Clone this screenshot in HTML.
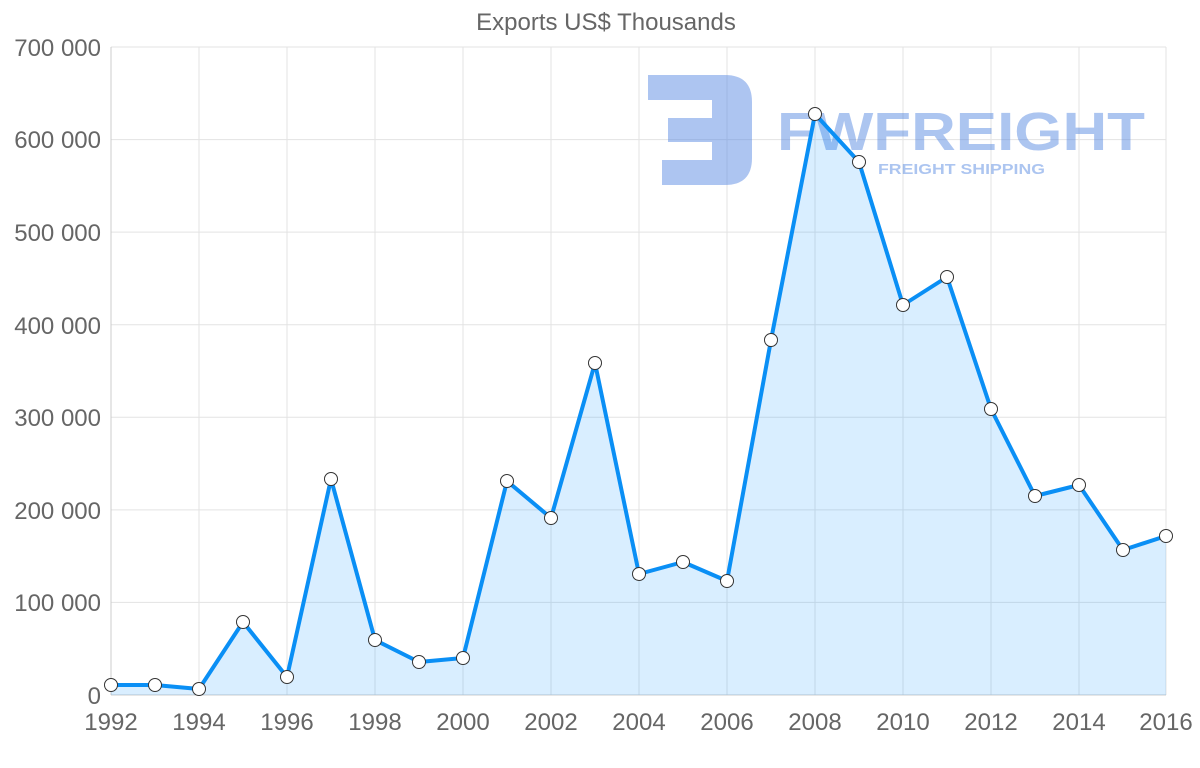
<!DOCTYPE html>
<html><head><meta charset="utf-8"><style>
body{margin:0;background:#fff;}
svg text{font-family:"Liberation Sans",sans-serif;}
</style></head><body>
<svg width="1200" height="763" xmlns="http://www.w3.org/2000/svg">
<text x="606" y="30" text-anchor="middle" font-size="24" fill="#666">Exports US$ Thousands</text>
<g stroke="#e3e3e3" stroke-width="1">
<line x1="111" y1="47" x2="1166" y2="47"/><line x1="111" y1="139.6" x2="1166" y2="139.6"/>
<line x1="111" y1="232.1" x2="1166" y2="232.1"/><line x1="111" y1="324.7" x2="1166" y2="324.7"/>
<line x1="111" y1="417.3" x2="1166" y2="417.3"/><line x1="111" y1="509.9" x2="1166" y2="509.9"/>
<line x1="111" y1="602.4" x2="1166" y2="602.4"/>
<line x1="199" y1="47" x2="199" y2="695"/><line x1="287" y1="47" x2="287" y2="695"/>
<line x1="375" y1="47" x2="375" y2="695"/><line x1="463" y1="47" x2="463" y2="695"/>
<line x1="551" y1="47" x2="551" y2="695"/><line x1="639" y1="47" x2="639" y2="695"/>
<line x1="727" y1="47" x2="727" y2="695"/><line x1="815" y1="47" x2="815" y2="695"/>
<line x1="903" y1="47" x2="903" y2="695"/><line x1="991" y1="47" x2="991" y2="695"/>
<line x1="1079" y1="47" x2="1079" y2="695"/><line x1="1166" y1="47" x2="1166" y2="695"/>
</g>
<line x1="111" y1="47" x2="111" y2="695" stroke="#ccc"/>
<line x1="111" y1="695" x2="1166" y2="695" stroke="#ccc"/>
<g font-size="24" fill="#666" text-anchor="end">
<text x="101" y="56">700 000</text><text x="101" y="148">600 000</text><text x="101" y="241">500 000</text>
<text x="101" y="334">400 000</text><text x="101" y="426">300 000</text><text x="101" y="519">200 000</text>
<text x="101" y="611">100 000</text><text x="101" y="704">0</text>
</g>
<g font-size="24" fill="#666" text-anchor="middle">
<text x="111" y="730">1992</text><text x="199" y="730">1994</text><text x="287" y="730">1996</text>
<text x="375" y="730">1998</text><text x="463" y="730">2000</text><text x="551" y="730">2002</text>
<text x="639" y="730">2004</text><text x="727" y="730">2006</text><text x="815" y="730">2008</text>
<text x="903" y="730">2010</text><text x="991" y="730">2012</text><text x="1079" y="730">2014</text>
<text x="1166" y="730">2016</text>
</g>
<g opacity="0.45" fill="#4a7fe0">
<path d="M648 75 H725 Q752 75 752 102 V158 Q752 185 725 185 H662 V160 H712 V142 H668 V118 H712 V100 H648 Z"/>
<text x="777" y="150" font-size="54" font-weight="bold" textLength="368" lengthAdjust="spacingAndGlyphs">FWFREIGHT</text>
<text x="878" y="174" font-size="15" font-weight="bold" textLength="167" lengthAdjust="spacingAndGlyphs" font-family="Liberation Serif,serif">FREIGHT SHIPPING</text>
</g>
<polygon fill="rgba(0,140,255,0.15)" points="111,695 111,685 155,685 199,689 243,622 287,677 331,479 375,640 419,662 463,658 507,481 551,518 595,363 639,574 683,562 727,581 771,340 815,114 859,162 903,305 947,277 991,409 1035,496 1079,485 1123,550 1166,536 1166,695"/>
<polyline fill="none" stroke="#0a8ff5" stroke-width="4" stroke-linejoin="round" points="111,685 155,685 199,689 243,622 287,677 331,479 375,640 419,662 463,658 507,481 551,518 595,363 639,574 683,562 727,581 771,340 815,114 859,162 903,305 947,277 991,409 1035,496 1079,485 1123,550 1166,536"/>
<g fill="#fff" stroke="#333" stroke-width="1">
<circle cx="111" cy="685" r="6.5"/><circle cx="155" cy="685" r="6.5"/><circle cx="199" cy="689" r="6.5"/>
<circle cx="243" cy="622" r="6.5"/><circle cx="287" cy="677" r="6.5"/><circle cx="331" cy="479" r="6.5"/>
<circle cx="375" cy="640" r="6.5"/><circle cx="419" cy="662" r="6.5"/><circle cx="463" cy="658" r="6.5"/>
<circle cx="507" cy="481" r="6.5"/><circle cx="551" cy="518" r="6.5"/><circle cx="595" cy="363" r="6.5"/>
<circle cx="639" cy="574" r="6.5"/><circle cx="683" cy="562" r="6.5"/><circle cx="727" cy="581" r="6.5"/>
<circle cx="771" cy="340" r="6.5"/><circle cx="815" cy="114" r="6.5"/><circle cx="859" cy="162" r="6.5"/>
<circle cx="903" cy="305" r="6.5"/><circle cx="947" cy="277" r="6.5"/><circle cx="991" cy="409" r="6.5"/>
<circle cx="1035" cy="496" r="6.5"/><circle cx="1079" cy="485" r="6.5"/><circle cx="1123" cy="550" r="6.5"/>
<circle cx="1166" cy="536" r="6.5"/>
</g>
</svg>
</body></html>
